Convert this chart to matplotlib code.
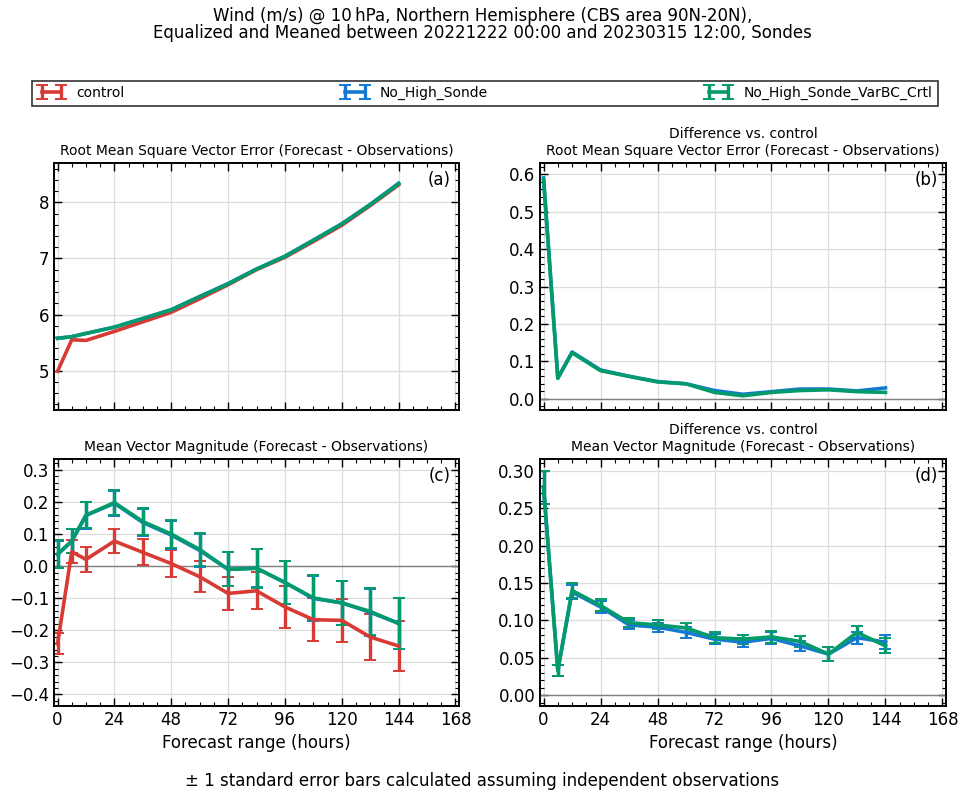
import numpy as np
import matplotlib
matplotlib.use("Agg")
import matplotlib.pyplot as plt
from matplotlib.ticker import MultipleLocator

# forecast lead times (hours)
lead = [0, 6, 12, 24, 36, 48, 60, 72, 84, 96, 108, 120, 132, 144]
names = ["control", "No_High_Sonde", "No_High_Sonde_VarBC_Crtl"]
colours = ["#d83b35", "#1479d2", "#039b6b"]

# (a) RMS vector error
rms_control = [4.99, 5.55, 5.54, 5.70, 5.87, 6.04, 6.28, 6.53, 6.80, 7.02, 7.30, 7.59, 7.94, 8.31]
rms_nohigh = [5.58, 5.605, 5.665, 5.777, 5.93, 6.086, 6.32, 6.552, 6.812, 7.039, 7.326, 7.616, 7.961, 8.339]
rms_varbc = [5.575, 5.605, 5.663, 5.775, 5.93, 6.085, 6.32, 6.547, 6.808, 7.037, 7.322, 7.614, 7.959, 8.327]

# (b) difference vs control of RMS vector error
drms_nohigh = [0.59, 0.055, 0.125, 0.077, 0.06, 0.046, 0.04, 0.022, 0.012, 0.019, 0.026, 0.026, 0.021, 0.029]
drms_varbc = [0.585, 0.055, 0.123, 0.075, 0.06, 0.045, 0.04, 0.017, 0.008, 0.017, 0.022, 0.024, 0.019, 0.017]

# (c) mean vector magnitude and standard errors
mean_control = [-0.242, 0.045, 0.021, 0.078, 0.043, 0.008, -0.033, -0.085, -0.077, -0.127, -0.167, -0.169, -0.221, -0.249]
err_control = [0.033, 0.036, 0.038, 0.038, 0.041, 0.042, 0.048, 0.052, 0.058, 0.066, 0.067, 0.068, 0.072, 0.078]
mean_nohigh = [0.036, 0.078, 0.158, 0.196, 0.136, 0.097, 0.049, -0.010, -0.006, -0.051, -0.101, -0.114, -0.144, -0.178]
err_nohigh = [0.043, 0.037, 0.041, 0.039, 0.042, 0.043, 0.051, 0.053, 0.060, 0.066, 0.070, 0.069, 0.073, 0.079]
mean_varbc = [0.0375, 0.078, 0.159, 0.198, 0.139, 0.100, 0.052, -0.010, -0.007, -0.051, -0.099, -0.115, -0.141, -0.179]
err_varbc = [0.043, 0.038, 0.041, 0.039, 0.042, 0.043, 0.051, 0.053, 0.060, 0.066, 0.070, 0.069, 0.073, 0.079]

# (d) difference vs control of mean vector magnitude
dmean_nohigh = [0.278, 0.033, 0.138, 0.118, 0.094, 0.091, 0.084, 0.075, 0.071, 0.076, 0.066, 0.055, 0.077, 0.071]
derr_nohigh = [0.022, 0.007, 0.010, 0.008, 0.006, 0.006, 0.007, 0.007, 0.006, 0.008, 0.007, 0.009, 0.008, 0.009]
dmean_varbc = [0.278, 0.033, 0.140, 0.120, 0.097, 0.094, 0.090, 0.077, 0.075, 0.078, 0.072, 0.055, 0.084, 0.066]
derr_varbc = [0.022, 0.007, 0.010, 0.008, 0.006, 0.006, 0.006, 0.007, 0.006, 0.008, 0.007, 0.009, 0.008, 0.010]

plt.rcParams["font.family"] = "DejaVu Sans"

fig = plt.figure(figsize=(9.65, 7.99), dpi=100)
W, H = 965.0, 799.0


def make_axes(l, t, r, b):
    return fig.add_axes([l / W, 1 - b / H, (r - l) / W, (b - t) / H])


ax_a = make_axes(54, 163, 459, 410)
ax_b = make_axes(540, 163, 946, 410)
ax_c = make_axes(54, 459, 459, 706)
ax_d = make_axes(540, 459, 946, 706)

lw = 2.6

# (a)
for vals, col in zip([rms_control, rms_nohigh, rms_varbc], colours):
    ax_a.plot(lead, vals, color=col, lw=lw)
ax_a.set_ylim(4.3, 8.7)
ax_a.yaxis.set_major_locator(MultipleLocator(1))
ax_a.yaxis.set_minor_locator(MultipleLocator(0.2))
ax_a.set_title("Root Mean Square Vector Error (Forecast - Observations)", fontsize=10)

# (b)
ax_b.axhline(0, color="grey", lw=1)
for vals, col in zip([drms_nohigh, drms_varbc], colours[1:]):
    ax_b.plot(lead, vals, color=col, lw=lw)
ax_b.set_ylim(-0.03, 0.63)
ax_b.yaxis.set_major_locator(MultipleLocator(0.1))
ax_b.yaxis.set_minor_locator(MultipleLocator(0.02))
ax_b.set_title("Difference vs. control\nRoot Mean Square Vector Error (Forecast - Observations)",
               fontsize=10)

# (c)
ax_c.axhline(0, color="grey", lw=1)
handles = []
for vals, errs, col in zip([mean_control, mean_nohigh, mean_varbc],
                           [err_control, err_nohigh, err_varbc], colours):
    h = ax_c.errorbar(lead, vals, yerr=errs, color=col, lw=lw, elinewidth=2.4,
                      capsize=4, capthick=1.4)
    handles.append(h)
ax_c.set_ylim(-0.436, 0.334)
ax_c.yaxis.set_major_locator(MultipleLocator(0.1))
ax_c.yaxis.set_minor_locator(MultipleLocator(0.02))
ax_c.set_title("Mean Vector Magnitude (Forecast - Observations)", fontsize=10)

# (d)
ax_d.axhline(0, color="grey", lw=1)
for vals, errs, col in zip([dmean_nohigh, dmean_varbc], [derr_nohigh, derr_varbc], colours[1:]):
    ax_d.errorbar(lead, vals, yerr=errs, color=col, lw=lw, elinewidth=2.4,
                  capsize=4, capthick=1.4)
ax_d.set_ylim(-0.0143, 0.3157)
ax_d.yaxis.set_major_locator(MultipleLocator(0.05))
ax_d.yaxis.set_minor_locator(MultipleLocator(0.01))
ax_d.set_title("Difference vs. control\nMean Vector Magnitude (Forecast - Observations)",
               fontsize=10)

for ax, lab in zip([ax_a, ax_b, ax_c, ax_d], ["(a)", "(b)", "(c)", "(d)"]):
    ax.set_xlim(-1.5, 169.5)
    ax.xaxis.set_major_locator(MultipleLocator(24))
    ax.xaxis.set_minor_locator(MultipleLocator(6))
    ax.grid(True, which="major", color="#dddddd", lw=0.9)
    ax.set_axisbelow(True)
    ax.tick_params(which="both", direction="in", top=True, right=True, labelsize=12)
    ax.tick_params(which="major", length=6, width=1)
    ax.tick_params(which="minor", length=3, width=0.8)
    for sp in ax.spines.values():
        sp.set_linewidth(1.4)
    ax.text(0.98, 0.931, lab, transform=ax.transAxes, ha="right", va="center", fontsize=12)

ax_a.tick_params(labelbottom=False)
ax_b.tick_params(labelbottom=False)
ax_c.set_xlabel("Forecast range (hours)", fontsize=12)
ax_d.set_xlabel("Forecast range (hours)", fontsize=12)

fig.text(0.5, 1 - 16 / H, "Wind (m/s) @ 10\u2009hPa, Northern Hemisphere (CBS area 90N-20N),",
         ha="center", va="center", fontsize=12)
fig.text(0.5, 1 - 33 / H, "Equalized and Meaned between 20221222 00:00 and 20230315 12:00, Sondes",
         ha="center", va="center", fontsize=12)
fig.text(0.5, 1 - 781 / H, "\u00b1 1 standard error bars calculated assuming independent observations",
         ha="center", va="center", fontsize=12)

leg = fig.legend(handles, names, loc="lower left", ncol=3, mode="expand",
                 bbox_to_anchor=(32 / W, 1 - 106 / H, 906 / W, 25 / H),
                 borderaxespad=0, fancybox=False, edgecolor="black", fontsize=10,
                 handlelength=2.0, numpoints=2)
leg.get_frame().set_linewidth(1.2)

fig.savefig("out.png", dpi=100)
